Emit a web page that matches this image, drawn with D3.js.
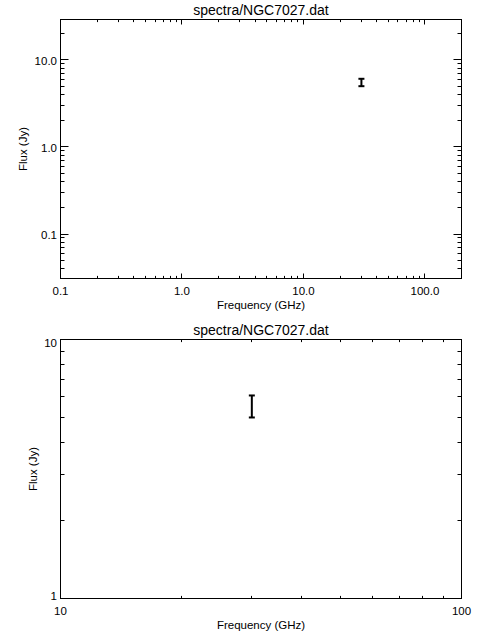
<!DOCTYPE html>
<html>
<head>
<meta charset="utf-8">
<script src="https://cdn.jsdelivr.net/npm/d3@7"></script>
<style>
  html, body { margin: 0; padding: 0; background: #fff; }
  svg { display: block; }
  text { font-family: "Liberation Sans", Arial, Helvetica, sans-serif; fill: #000; }
</style>
</head>
<body>
<svg id="chart" width="480" height="640"></svg>
<script>
// ---- data ----
const titleText = "spectra/NGC7027.dat";
const xTitle = "Frequency (GHz)";
const yTitle = "Flux (Jy)";

const freqGHz = [30];
const fluxJy = [5.54];
const fluxErr = [0.54];

// top panel: wide view
const topXDomain = [0.1, 200];
const topYDomain = [0.0308, 29.2];
const topXMajor = [0.1, 1, 10, 100];
const topXLabels = ["0.1", "1.0", "10.0", "100.0"];
const topYMajor = [0.1, 1, 10];
const topYLabels = ["0.1", "1.0", "10.0"];

// bottom panel: zoomed view
const botXDomain = [10, 100];
const botYDomain = [1, 10];
const botXMajor = [10, 100];
const botXLabels = ["10", "100"];
const botYMajor = [1, 10];
const botYLabels = ["1", "10"];

// ---- drawing ----
const svg = d3.select("#chart");

function near(a, b) { return Math.abs(a - b) / b < 1e-6; }

function drawPanel(cfg) {
  const g = svg.append("g");
  const x = d3.scaleLog().domain(cfg.xDomain).range([cfg.left, cfg.right]);
  const y = d3.scaleLog().domain(cfg.yDomain).range([cfg.bottom, cfg.top]);

  // frame
  g.append("rect")
    .attr("x", cfg.left).attr("y", cfg.top)
    .attr("width", cfg.right - cfg.left).attr("height", cfg.bottom - cfg.top)
    .attr("fill", "none").attr("stroke", "#000").attr("stroke-width", 1);

  const snap = v => Math.round(v - 0.5) + 0.5;

  // x ticks (bottom and top)
  const xt = x.ticks().filter(t => t > cfg.xDomain[0] * 1.0001 && t < cfg.xDomain[1] * 0.9999);
  xt.forEach(t => {
    const major = cfg.xMajor.some(m => near(m, t));
    const len = major ? cfg.xMajLen : cfg.xMinLen;
    const px = snap(x(t));
    g.append("line").attr("x1", px).attr("x2", px)
      .attr("y1", cfg.bottom).attr("y2", cfg.bottom - len)
      .attr("stroke", "#000").attr("stroke-width", 1);
    g.append("line").attr("x1", px).attr("x2", px)
      .attr("y1", cfg.top).attr("y2", cfg.top + len)
      .attr("stroke", "#000").attr("stroke-width", 1);
  });
  // y ticks (left and right)
  const yt = y.ticks().filter(t => t > cfg.yDomain[0] * 1.0001 && t < cfg.yDomain[1] * 0.9999);
  yt.forEach(t => {
    const major = cfg.yMajor.some(m => near(m, t));
    const len = major ? cfg.yMajLen : cfg.yMinLen;
    const py = snap(y(t));
    g.append("line").attr("y1", py).attr("y2", py)
      .attr("x1", cfg.left).attr("x2", cfg.left + len)
      .attr("stroke", "#000").attr("stroke-width", 1);
    g.append("line").attr("y1", py).attr("y2", py)
      .attr("x1", cfg.right).attr("x2", cfg.right - len)
      .attr("stroke", "#000").attr("stroke-width", 1);
  });

  // x tick labels
  g.selectAll(".xl").data(cfg.xMajor).enter().append("text")
    .attr("x", d => x(d)).attr("y", cfg.bottom + 16)
    .attr("text-anchor", "middle").attr("font-size", "11.5px")
    .text((d, i) => cfg.xLabels[i]);
  // y tick labels
  g.selectAll(".yl").data(cfg.yMajor).enter().append("text")
    .attr("x", cfg.left - 3.5)
    .attr("y", d => {
      const py = y(d);
      if (Math.abs(py - cfg.top) < 1) return py + 7.8;
      if (Math.abs(py - cfg.bottom) < 1) return py + 1.5;
      return py + 5.3;
    })
    .attr("text-anchor", "end").attr("font-size", "11.5px")
    .text((d, i) => cfg.yLabels[i]);

  const cx = (cfg.left + cfg.right) / 2;
  // title
  g.append("text").attr("x", cx).attr("y", cfg.top - 4.5)
    .attr("text-anchor", "middle").attr("font-size", "14px").text(titleText);
  // axis titles
  g.append("text").attr("x", cx).attr("y", cfg.bottom + 30)
    .attr("text-anchor", "middle").attr("font-size", "11.5px").text(xTitle);
  const cy = (cfg.top + cfg.bottom) / 2;
  g.append("text")
    .attr("transform", `translate(${cfg.yTitleX},${cy}) rotate(-90)`)
    .attr("text-anchor", "middle").attr("font-size", "11.5px").text(yTitle);

  // error bars
  const pts = freqGHz.map((f, i) => ({ f, v: fluxJy[i], e: fluxErr[i] }));
  pts.forEach(p => {
    const px = x(p.f);
    const y1 = y(p.v - p.e), y2 = y(p.v + p.e);
    g.append("line").attr("x1", px).attr("x2", px).attr("y1", y1).attr("y2", y2)
      .attr("stroke", "#000").attr("stroke-width", 2);
    [y1, y2].forEach(yy => {
      g.append("line").attr("x1", px - 3).attr("x2", px + 3).attr("y1", yy).attr("y2", yy)
        .attr("stroke", "#000").attr("stroke-width", 2);
    });
  });
}

drawPanel({
  left: 60.5, right: 461.5, top: 19.5, bottom: 278.5,
  xDomain: topXDomain, yDomain: topYDomain,
  xMajor: topXMajor, xLabels: topXLabels,
  yMajor: topYMajor, yLabels: topYLabels,
  xMajLen: 5, xMinLen: 2.6, yMajLen: 8, yMinLen: 4,
  yTitleX: 27
});

drawPanel({
  left: 60.5, right: 461.5, top: 339.5, bottom: 598.5,
  xDomain: botXDomain, yDomain: botYDomain,
  xMajor: botXMajor, xLabels: botXLabels,
  yMajor: botYMajor, yLabels: botYLabels,
  xMajLen: 5, xMinLen: 2.6, yMajLen: 8, yMinLen: 4,
  yTitleX: 37
});
</script>
</body>
</html>
